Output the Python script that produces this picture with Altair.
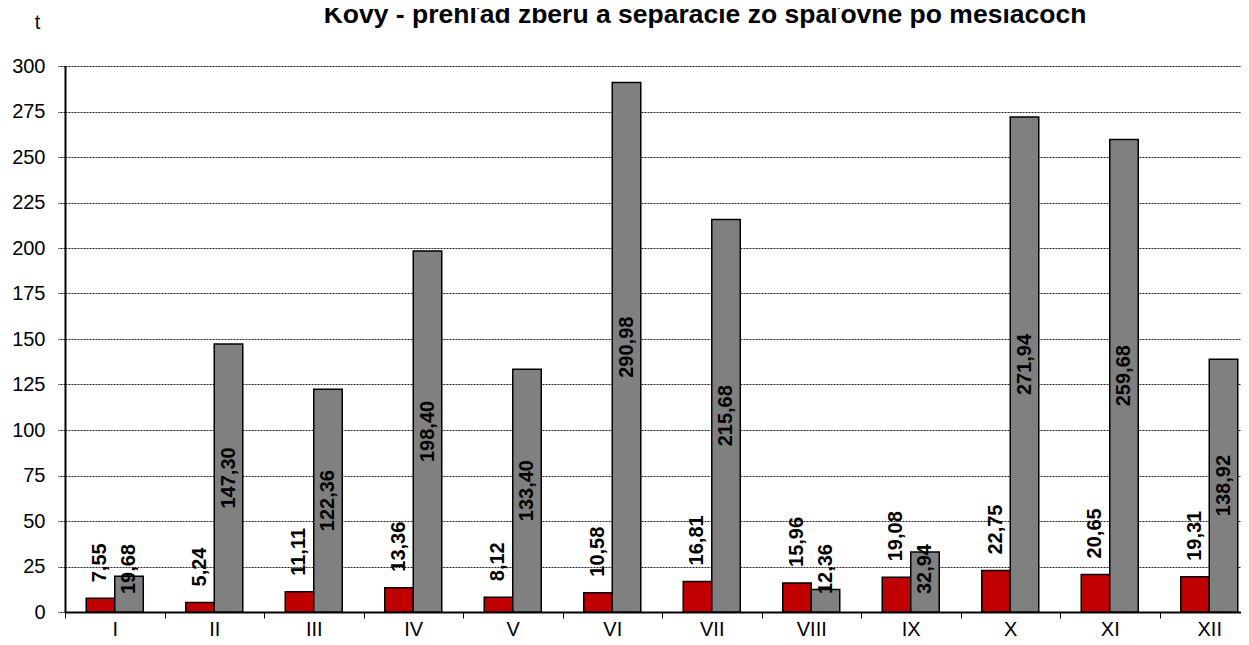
import altair as alt
import pandas as pd

# ---- data ----
months = ["I", "II", "III", "IV", "V", "VI", "VII", "VIII", "IX", "X", "XI", "XII"]
series_names = ["Zber", "Separácia zo spaľovne"]
red_values = [7.55, 5.24, 11.11, 13.36, 8.12, 10.58, 16.81, 15.96, 19.08, 22.75, 20.65, 19.31]
gray_values = [19.68, 147.30, 122.36, 198.40, 133.40, 290.98, 215.68, 12.36, 32.94, 271.94, 259.68, 138.92]
y_ticks = [0, 25, 50, 75, 100, 125, 150, 175, 200, 225, 250, 275, 300]
title_text = "Kovy - prehľad zberu a separácie zo spaľovne po mesiacoch"
unit_label = "t"

rows = []
for m, r, g in zip(months, red_values, gray_values):
    rows.append({"month": m, "series": series_names[0], "value": r,
                 "label": f"{r:.2f}".replace(".", ",")})
    rows.append({"month": m, "series": series_names[1], "value": g,
                 "label": f"{g:.2f}".replace(".", ",")})
df = pd.DataFrame(rows)

FONT = "Liberation Sans"

x_enc = alt.X(
    "month:N", sort=months,
    scale=alt.Scale(paddingInner=0, paddingOuter=0),
    axis=alt.Axis(
        title=None, labelAngle=0, labelFontSize=20, labelFont=FONT, labelColor="black",
        domainColor="black", domainWidth=2, tickColor="black", tickSize=6, tickWidth=1,
        tickBand="extent", labelPadding=1, grid=False,
    ),
)
xoff_enc = alt.XOffset(
    "series:N", sort=series_names,
    scale=alt.Scale(paddingInner=0, paddingOuter=0.745),
)
y_scale = alt.Scale(domain=[0, 300], nice=False, zero=True)

bars = alt.Chart(df).mark_bar(stroke="black", strokeWidth=1.5, opacity=1).encode(
    x=x_enc,
    xOffset=xoff_enc,
    y=alt.Y(
        "value:Q", scale=y_scale,
        axis=alt.Axis(
            values=y_ticks, title=unit_label, titleAngle=0, titleAlign="center",
            titleBaseline="alphabetic", titleX=-28, titleY=-38, titleFontSize=20,
            titleFontWeight="normal", titleFont=FONT, titleColor="black",
            labelFontSize=20, labelFont=FONT, labelColor="black", labelPadding=13,
            domainColor="black", domainWidth=2,
            tickColor="black", tickSize=7, tickWidth=1, tickDash=[2, 1],
            grid=True, gridColor="#222222", gridWidth=1, gridDash=[2, 1],
        ),
    ),
    color=alt.Color("series:N", sort=series_names,
                    scale=alt.Scale(domain=series_names, range=["#C00000", "#808080"]),
                    legend=None),
)

red_labels = alt.Chart(df).transform_filter(
    alt.datum.series == series_names[0]
).mark_text(
    angle=270, align="left", baseline="middle", dx=16,
    fontSize=20, fontWeight="bold", font=FONT, color="black",
).encode(
    x=alt.X("month:N", sort=months),
    xOffset=alt.XOffset("series:N", sort=series_names),
    y=alt.Y("value:Q"),
    text="label:N",
)

gray_labels = alt.Chart(df).transform_filter(
    alt.datum.series == series_names[1]
).transform_calculate(
    labelpos="max(datum.value / 2, 23.6)"
).mark_text(
    angle=270, align="center", baseline="middle",
    fontSize=20, fontWeight="bold", font=FONT, color="black",
).encode(
    x=alt.X("month:N", sort=months),
    xOffset=alt.XOffset("series:N", sort=series_names),
    y=alt.Y("labelpos:Q"),
    text="label:N",
)

# chart title drawn as a text mark above the plot area
title_mark = alt.Chart(pd.DataFrame({"title": [title_text]})).mark_text(
    align="center", baseline="alphabetic",
    fontSize=26.5, fontWeight="bold", font=FONT, color="black",
).encode(
    text="title:N",
    x=alt.value(640),
    y=alt.value(-43),
)

chart = alt.layer(bars, red_labels, gray_labels, title_mark).properties(
    width=1194, height=546,
    autosize=alt.AutoSizeParams(type="none"),
    padding={"left": 57, "top": 58, "right": -18, "bottom": 25},
).configure_view(
    stroke="black", strokeWidth=2,
).configure(background="white")

chart.save("out.html", embed_options={"renderer": "svg", "actions": False})
